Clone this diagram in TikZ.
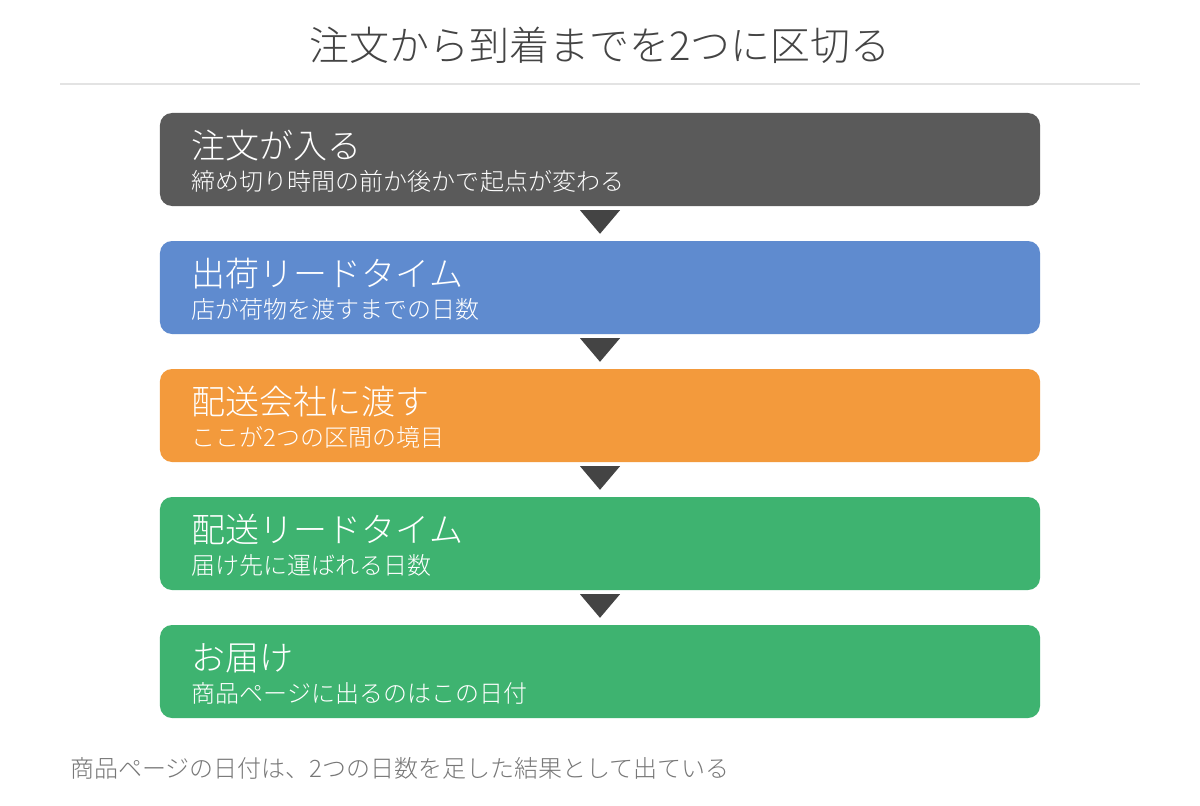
\documentclass[tikz,border=0pt]{standalone}
\usepackage{fontspec}
\setmainfont{Noto Sans CJK JP Light}
\definecolor{titlec}{HTML}{444444}
\definecolor{rulec}{HTML}{E3E3E3}
\definecolor{c1}{HTML}{5A5A5A}
\definecolor{c2}{HTML}{5F8BCF}
\definecolor{c3}{HTML}{F39A3C}
\definecolor{c4}{HTML}{3EB370}
\definecolor{arrc}{HTML}{444444}
\definecolor{footc}{HTML}{777777}
\begin{document}
\begin{tikzpicture}[x=1bp,y=-1bp,
  stage/.style={minimum width=880bp,minimum height=93bp,rounded corners=12bp,inner sep=0pt,draw=none},
  head/.style={anchor=base west,inner sep=0pt,text=white,font=\fontsize{34bp}{40bp}\selectfont},
  sub/.style={anchor=base west,inner sep=0pt,text=white,font=\fontsize{24bp}{28bp}\selectfont},
  tri/.style={fill=arrc}]
\useasboundingbox[fill=white] (0,0) rectangle (1200,806);
\node[anchor=base,inner sep=0pt,text=titlec,font=\fontsize{40bp}{46bp}\selectfont] (title) at (600,61) {注文から到着までを2つに区切る};
\coordinate (rl) at (60,84);
\coordinate (rr) at (1140,84);
\draw[rulec,line width=2bp] (rl) -- (rr);
\node[stage,fill=c1] (b1) at (600,159.5) {};
\node[stage,fill=c2] (b2) at (600,287.5) {};
\node[stage,fill=c3] (b3) at (600,415.5) {};
\node[stage,fill=c4] (b4) at (600,543.5) {};
\node[stage,fill=c4] (b5) at (600,671.5) {};
\foreach \i/\h/\s in {1/注文が入る/締め切り時間の前か後かで起点が変わる,
  2/出荷リードタイム/店が荷物を渡すまでの日数,
  3/配送会社に渡す/ここが2つの区間の境目,
  4/配送リードタイム/届け先に運ばれる日数,
  5/お届け/商品ページに出るのはこの日付}{
  \node[head] (h\i) at ([xshift=32bp,yshift=1.5bp]b\i.west) {\h};
  \node[sub] (s\i) at ([xshift=32bp,yshift=-30.5bp]b\i.west) {\s};
}
\foreach \a/\b in {1/2,2/3,3/4,4/5}{
  \fill[tri] ([xshift=-20bp,yshift=-4bp]b\a.south) -- ([xshift=20bp,yshift=-4bp]b\a.south) -- ([yshift=7bp]b\b.north) -- cycle;
}
\node[anchor=base west,inner sep=0pt,text=footc,font=\fontsize{24bp}{28bp}\selectfont] (foot) at (70,777) {商品ページの日付は、2つの日数を足した結果として出ている};
\end{tikzpicture}
\end{document}
